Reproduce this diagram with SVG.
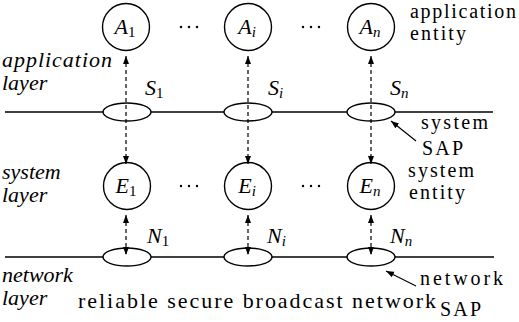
<svg xmlns="http://www.w3.org/2000/svg" width="519" height="322" viewBox="0 0 519 322">
<style>
.ln{stroke:#000;stroke-width:1.3;fill:none}
.nd{fill:#fff;stroke:#000;stroke-width:1.4}
.dash{stroke:#000;stroke-width:1.2;stroke-dasharray:4 3;fill:none}
.ptr{stroke:#000;stroke-width:1.2;fill:none}
.t{font-size:22px;fill:#000}
.r{font-size:20px;fill:#000}
.it{font-style:italic}
.m{font-size:22px;font-style:italic;fill:#000}
.sub{font-size:15px;font-style:normal}
.subi{font-size:15px}
.dot{fill:#000}
</style>
<defs>
<marker id="ah" viewBox="0 0 8 6" refX="8" refY="3" markerWidth="8" markerHeight="6" markerUnits="userSpaceOnUse" orient="auto-start-reverse">
<path d="M0,0 L8,3 L0,6 z" fill="#000"/>
</marker>
<marker id="ap" viewBox="0 0 8 6" refX="8" refY="3" markerWidth="8" markerHeight="6" markerUnits="userSpaceOnUse" orient="auto">
<path d="M0,0 L8,3 L0,6 z" fill="#000"/>
</marker>
</defs>

<g id="layer-lines">
<line class="ln" x1="5" y1="112" x2="493" y2="112"/>
<line class="ln" x1="5" y1="257" x2="494" y2="257"/>
</g>

<g font-family="Liberation Serif, serif">
<g id="S1"><ellipse class="nd" cx="127" cy="112" rx="24" ry="9"/><text class="m" x="145" y="95">S<tspan class="sub" dy="3">1</tspan></text></g>
<g id="Si"><ellipse class="nd" cx="248" cy="112" rx="24" ry="9"/><text class="m" x="268" y="95">S<tspan class="subi" dy="3">i</tspan></text></g>
<g id="Sn"><ellipse class="nd" cx="371" cy="112" rx="24" ry="9"/><text class="m" x="390" y="95">S<tspan class="subi" dy="3">n</tspan></text></g>

<g id="N1"><ellipse class="nd" cx="127" cy="257" rx="24" ry="9"/><text class="m" x="147" y="243">N<tspan class="sub" dy="3">1</tspan></text></g>
<g id="Ni"><ellipse class="nd" cx="248" cy="257" rx="24" ry="9"/><text class="m" x="267" y="243">N<tspan class="subi" dy="3">i</tspan></text></g>
<g id="Nn"><ellipse class="nd" cx="371" cy="257" rx="24" ry="9"/><text class="m" x="390" y="243">N<tspan class="subi" dy="3">n</tspan></text></g>

<g id="A1"><circle class="nd" cx="126" cy="27" r="23.5"/><text class="m" x="125" y="34" text-anchor="middle">A<tspan class="sub" dy="3">1</tspan></text></g>
<g id="Ai"><circle class="nd" cx="248" cy="27" r="23.5"/><text class="m" x="247" y="34" text-anchor="middle">A<tspan class="subi" dy="3">i</tspan></text></g>
<g id="An"><circle class="nd" cx="371" cy="27" r="23.5"/><text class="m" x="370" y="34" text-anchor="middle">A<tspan class="subi" dy="3">n</tspan></text></g>

<g id="E1"><circle class="nd" cx="127" cy="186" r="23.5"/><text class="m" x="126" y="193" text-anchor="middle">E<tspan class="sub" dy="3">1</tspan></text></g>
<g id="Ei"><circle class="nd" cx="248" cy="186" r="23.5"/><text class="m" x="247" y="193" text-anchor="middle">E<tspan class="subi" dy="3">i</tspan></text></g>
<g id="En"><circle class="nd" cx="371" cy="186" r="23.5"/><text class="m" x="370" y="193" text-anchor="middle">E<tspan class="subi" dy="3">n</tspan></text></g>
</g>

<g id="ellipsis">
<circle class="dot" cx="181" cy="27" r="1.2"/><circle class="dot" cx="189" cy="27" r="1.2"/><circle class="dot" cx="197" cy="27" r="1.2"/>
<circle class="dot" cx="303" cy="27" r="1.2"/><circle class="dot" cx="311" cy="27" r="1.2"/><circle class="dot" cx="319" cy="27" r="1.2"/>
<circle class="dot" cx="181" cy="186" r="1.2"/><circle class="dot" cx="189" cy="186" r="1.2"/><circle class="dot" cx="197" cy="186" r="1.2"/>
<circle class="dot" cx="303" cy="186" r="1.2"/><circle class="dot" cx="311" cy="186" r="1.2"/><circle class="dot" cx="319" cy="186" r="1.2"/>
</g>

<g id="connectors">
<line class="dash" x1="126" y1="56" x2="126" y2="164" marker-start="url(#ah)" marker-end="url(#ah)"/>
<line class="dash" x1="248" y1="56" x2="248" y2="164" marker-start="url(#ah)" marker-end="url(#ah)"/>
<line class="dash" x1="371" y1="56" x2="371" y2="164" marker-start="url(#ah)" marker-end="url(#ah)"/>
<line class="dash" x1="126" y1="215" x2="126" y2="255" marker-start="url(#ah)" marker-end="url(#ah)"/>
<line class="dash" x1="248" y1="215" x2="248" y2="255" marker-start="url(#ah)" marker-end="url(#ah)"/>
<line class="dash" x1="371" y1="215" x2="371" y2="255" marker-start="url(#ah)" marker-end="url(#ah)"/>
<line class="ptr" x1="416" y1="141" x2="391" y2="121" marker-end="url(#ap)"/>
<line class="ptr" x1="416" y1="286" x2="386" y2="271" marker-end="url(#ap)"/>
</g>

<g id="labels" font-family="Liberation Serif, serif">
<text class="t it" x="2" y="67" textLength="110" lengthAdjust="spacing">application</text>
<text class="t it" x="2" y="90">layer</text>
<text class="t it" x="2" y="179">system</text>
<text class="t it" x="2" y="202">layer</text>
<text class="t it" x="2" y="282">network</text>
<text class="t it" x="2" y="305">layer</text>
<text class="r" x="410" y="18" textLength="106" lengthAdjust="spacing">application</text>
<text class="r" x="410" y="40" textLength="56" lengthAdjust="spacing">entity</text>
<text class="r" x="421" y="129" textLength="67" lengthAdjust="spacing">system</text>
<text class="r" x="422" y="155" textLength="41" lengthAdjust="spacing">SAP</text>
<text class="r" x="408" y="177" textLength="66" lengthAdjust="spacing">system</text>
<text class="r" x="409" y="199" textLength="56" lengthAdjust="spacing">entity</text>
<text class="r" x="420" y="285" textLength="83" lengthAdjust="spacing">network</text>
<text class="r" x="440" y="316" textLength="41" lengthAdjust="spacing">SAP</text>
<text class="t" x="78" y="308" textLength="358" lengthAdjust="spacing">reliable secure broadcast network</text>
</g>
</svg>
